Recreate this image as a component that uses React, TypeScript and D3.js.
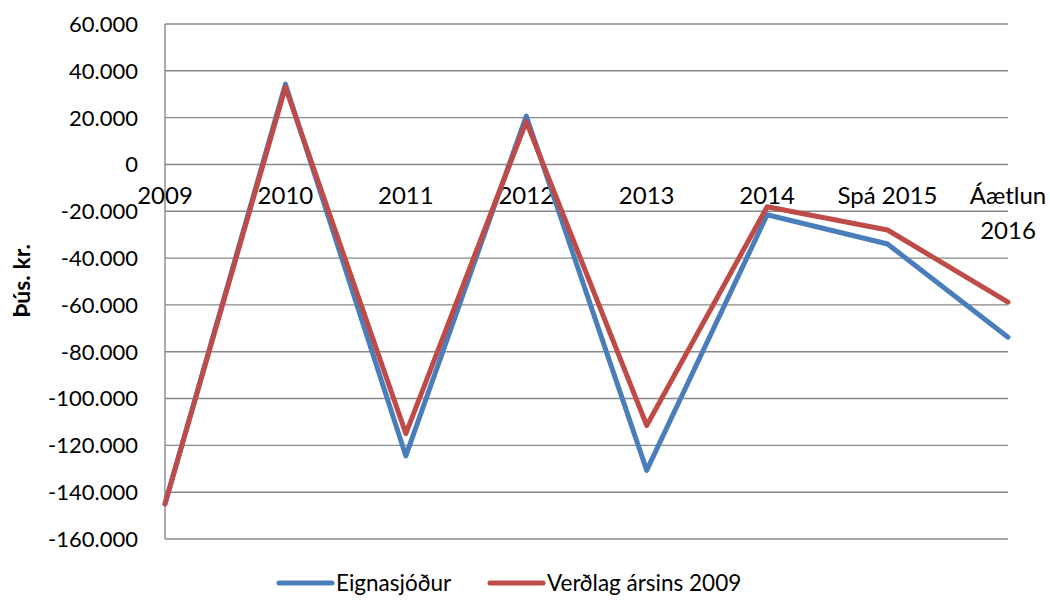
import * as d3 from 'd3'

const categories = ['2009', '2010', '2011', '2012', '2013', '2014', 'Spá 2015', 'Áætlun 2016']
const eignasjodur = [-145, 34.3, -124.5, 20.7, -130.7, -21.5, -34, -73.8]
const verdlag2009 = [-145, 33, -115, 18.3, -111.5, -18.1, -28, -58.8]
const yTicks = [60, 40, 20, 0, -20, -40, -60, -80, -100, -120, -140, -160]

const seriesList = [
  { name: 'Eignasjóður', values: eignasjodur, color: '#4A7EBB' },
  { name: 'Verðlag ársins 2009', values: verdlag2009, color: '#BE4B48' },
]

const W = 1050
const H = 605
const font = 'Lato, "Open Sans", sans-serif'

export default function App() {
  // plot area
  const left = 165,
    right = 1008,
    top = 24,
    bottom = 539

  const x = d3.scalePoint<string>().domain(categories).range([left, right])
  const y = d3.scaleLinear().domain([-160, 60]).range([bottom, top])

  const label = (v: number) => (v === 0 ? '0' : `${v}.000`)

  const line = d3
    .line<number>()
    .x((_, i) => x(categories[i]) as number)
    .y((d) => y(d))

  return (
    <svg width={W} height={H} style={{ position: 'absolute', left: 0, top: 0 }} fontFamily={font}>
      <rect width={W} height={H} fill="#fff" />

      {/* gridlines */}
      {yTicks.map((t) => (
        <line key={t} x1={left} x2={right} y1={y(t)} y2={y(t)} stroke="#888" strokeWidth={1.4} />
      ))}
      <line x1={left} x2={left} y1={top} y2={bottom} stroke="#888" strokeWidth={1.4} />

      {/* y tick labels */}
      {yTicks.map((t) => (
        <text key={t} x={138} y={y(t)} dy="0.36em" textAnchor="end" fontSize={22} fill="#000">
          {label(t)}
        </text>
      ))}

      {/* axis title */}
      <text
        transform={`translate(30,281) rotate(-90)`}
        textAnchor="middle"
        fontSize={23}
        fontWeight="bold"
        fill="#000"
      >
        Þús. kr.
      </text>

      {/* category labels at the zero line */}
      {categories.map((c) => {
        const parts = c === 'Áætlun 2016' ? ['Áætlun', '2016'] : [c]
        return (
          <text key={c} x={x(c)} y={y(0) + 40} textAnchor="middle" fontSize={24} fill="#000">
            {parts.map((p, i) => (
              <tspan key={p} x={x(c)} dy={i === 0 ? 0 : 35}>
                {p}
              </tspan>
            ))}
          </text>
        )
      })}

      {/* series */}
      {seriesList.map((s) => (
        <path
          key={s.name}
          d={line(s.values) ?? ''}
          fill="none"
          stroke={s.color}
          strokeWidth={5}
          strokeLinejoin="round"
          strokeLinecap="round"
        />
      ))}

      {/* legend */}
      {seriesList.map((s, i) => {
        const lx = i === 0 ? 279 : 490
        return (
          <g key={s.name}>
            <line x1={lx} x2={lx + 53} y1={583} y2={583} stroke={s.color} strokeWidth={5} strokeLinecap="round" />
            <text x={lx + 57} y={591} fontSize={22.5} fill="#000">
              {s.name}
            </text>
          </g>
        )
      })}
    </svg>
  )
}
